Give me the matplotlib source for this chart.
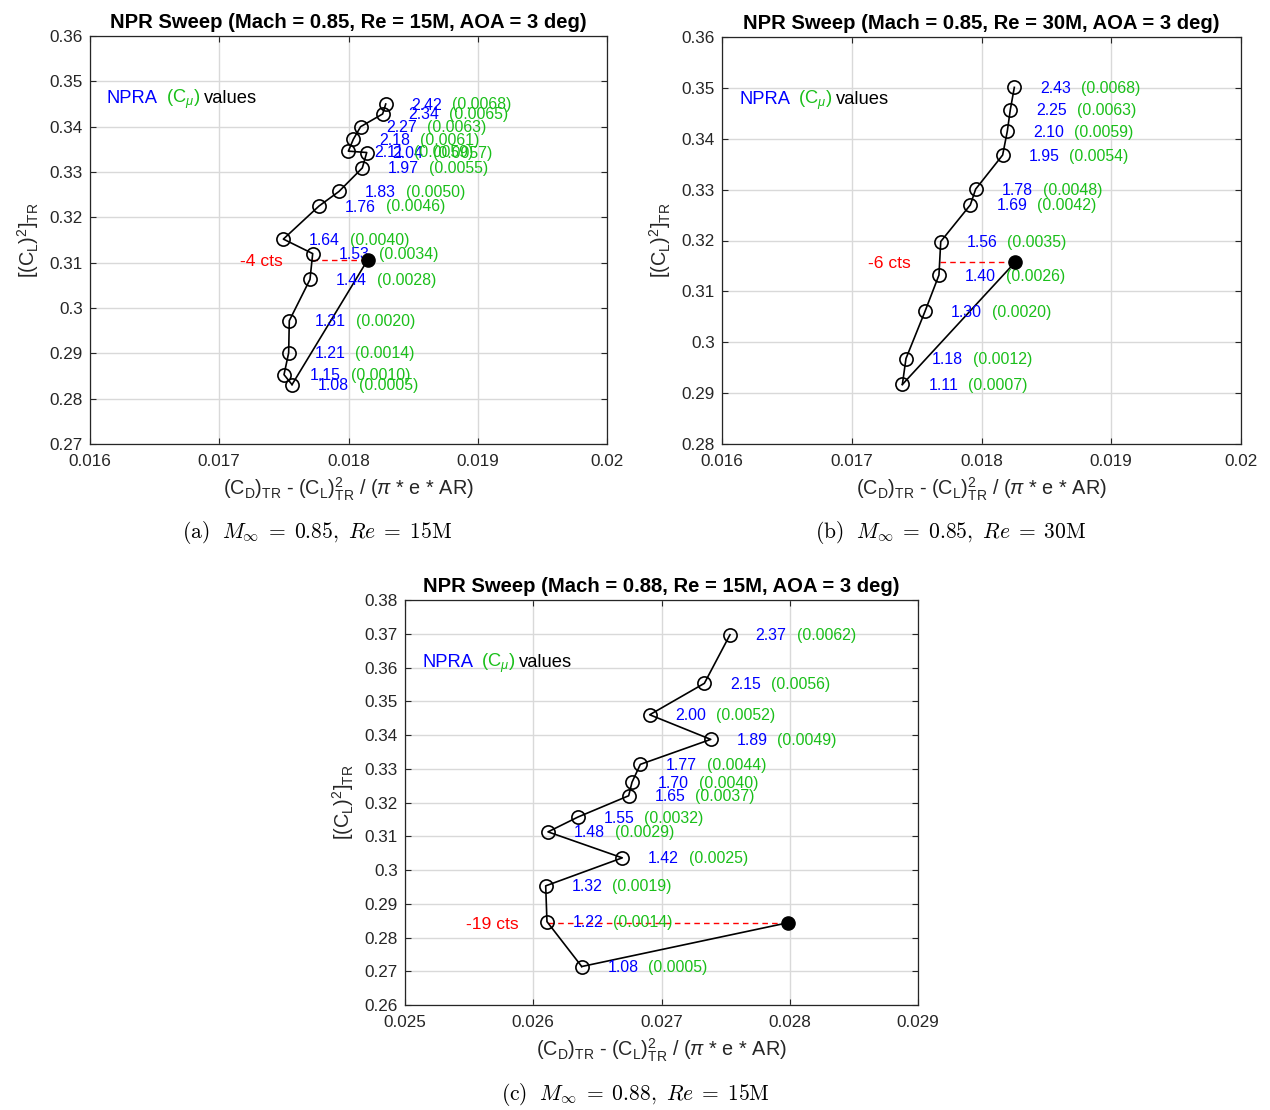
import numpy as np
import matplotlib
matplotlib.use("Agg")
import matplotlib.pyplot as plt
import matplotlib.transforms as mtransforms
from matplotlib.ticker import FuncFormatter

plt.rcParams['font.family'] = ['Liberation Sans', 'DejaVu Sans']
plt.rcParams['mathtext.fontset'] = 'custom'
plt.rcParams['mathtext.rm'] = 'Liberation Sans'
plt.rcParams['mathtext.it'] = 'Liberation Sans:italic'
plt.rcParams['mathtext.bf'] = 'Liberation Sans:bold'

# ---------------- data ----------------
# (a) Mach 0.85, Re 15M
a_npr = ["1.08", "1.15", "1.21", "1.31", "1.44", "1.53", "1.64", "1.76", "1.83",
         "1.97", "2.04", "2.11", "2.18", "2.27", "2.34", "2.42"]
a_cmu = ["0.0005", "0.0010", "0.0014", "0.0020", "0.0028", "0.0034", "0.0040", "0.0046",
         "0.0050", "0.0055", "0.0057", "0.0059", "0.0061", "0.0063", "0.0065", "0.0068"]
a_cd = [0.017563, 0.017501, 0.017537, 0.017542, 0.017702, 0.017723, 0.017496, 0.017772,
        0.017926, 0.018107, 0.018141, 0.017999, 0.018037, 0.018094, 0.018264, 0.018288]
a_cl2 = [0.2831, 0.2853, 0.2901, 0.2972, 0.3063, 0.3120, 0.3152, 0.3225,
         0.3257, 0.3309, 0.3343, 0.3346, 0.3372, 0.3400, 0.3428, 0.3450]
a_base_cd = 0.018148
a_base_cl2 = 0.3106
a_delta = "-4 cts"

# (b) Mach 0.85, Re 30M
b_npr = ["1.11", "1.18", "1.30", "1.40", "1.56", "1.69", "1.78", "1.95", "2.10", "2.25", "2.43"]
b_cmu = ["0.0007", "0.0012", "0.0020", "0.0026", "0.0035", "0.0042", "0.0048", "0.0054",
         "0.0059", "0.0063", "0.0068"]
b_cd = [0.017390, 0.017418, 0.017565, 0.017672, 0.017686, 0.017914, 0.017955, 0.018163,
        0.018199, 0.018222, 0.018253]
b_cl2 = [0.2917, 0.2968, 0.3061, 0.3132, 0.3198, 0.3270, 0.3301, 0.3368,
         0.3415, 0.3457, 0.3501]
b_base_cd = 0.018258
b_base_cl2 = 0.3157
b_delta = "-6 cts"

# (c) Mach 0.88, Re 15M
c_npr = ["1.08", "1.22", "1.32", "1.42", "1.48", "1.55", "1.65", "1.70", "1.77",
         "1.89", "2.00", "2.15", "2.37"]
c_cmu = ["0.0005", "0.0014", "0.0019", "0.0025", "0.0029", "0.0032", "0.0037", "0.0040",
         "0.0044", "0.0049", "0.0052", "0.0056", "0.0062"]
c_cd = [0.026378, 0.026107, 0.026097, 0.026694, 0.026115, 0.026349, 0.026744, 0.026770,
        0.026835, 0.027384, 0.026908, 0.027334, 0.027534]
c_cl2 = [0.2714, 0.2847, 0.2953, 0.3036, 0.3113, 0.3157, 0.3220, 0.3260,
         0.3313, 0.3387, 0.3460, 0.3553, 0.3697]
c_base_cd = 0.027989
c_base_cl2 = 0.2844
c_delta = "-19 cts"

titles = ["NPR Sweep (Mach = 0.85, Re = 15M, AOA = 3 deg)",
          "NPR Sweep (Mach = 0.85, Re = 30M, AOA = 3 deg)",
          "NPR Sweep (Mach = 0.88, Re = 15M, AOA = 3 deg)"]
captions = [r"$\mathrm{(a)}\ \ M_\infty\;=\;0.85,\ Re\;=\;15\mathrm{M}$",
            r"$\mathrm{(b)}\ \ M_\infty\;=\;0.85,\ Re\;=\;30\mathrm{M}$",
            r"$\mathrm{(c)}\ \ M_\infty\;=\;0.88,\ Re\;=\;15\mathrm{M}$"]

# ---------------- figure ----------------
DPI = 100
fig = plt.figure(figsize=(12.7, 11.1), dpi=DPI)
renderer = fig.canvas.get_renderer()

BLUE = (0, 0, 1)
GREEN = (0.1, 0.75, 0.1)
AXC = (0.15, 0.15, 0.15)
FS_LBL = 11.4
FS_TICK = 12.3


def fmt(v, _):
    s = ("%.4f" % round(v, 6)).rstrip('0').rstrip('.')
    return s


def parts_text(ax, x, y, parts, fs, dy_px=0.0):
    off = 0.0
    for s, c, g in parts:
        tr = mtransforms.offset_copy(ax.transData, fig=fig, x=off, y=dy_px, units='dots')
        t = ax.text(x, y, s, color=c, fontsize=fs, transform=tr, va='baseline', ha='left',
                    clip_on=False)
        w = t.get_window_extent(renderer).width
        off += w + g


def panel(rect, cd, cl2, npr, cmu, base_cd, base_cl2, delta, xlim, ylim, title, seg):
    ax = fig.add_axes(rect)
    ax.set_xlim(*xlim)
    ax.set_ylim(*ylim)
    ax.set_xticks(np.round(np.arange(xlim[0], xlim[1] + 1e-9, 0.001), 4))
    ax.set_yticks(np.round(np.arange(ylim[0], ylim[1] + 1e-9, 0.01), 3))
    ax.xaxis.set_major_formatter(FuncFormatter(fmt))
    ax.yaxis.set_major_formatter(FuncFormatter(fmt))
    ax.grid(True, color='#d9d9d9', linewidth=1.0)
    ax.set_axisbelow(True)
    for sp in ax.spines.values():
        sp.set_color(AXC)
        sp.set_linewidth(0.9)
    ax.tick_params(direction='in', length=4, width=0.8, colors=AXC, labelsize=FS_TICK,
                   top=True, right=True, pad=5)
    ax.tick_params(axis='x', pad=7)
    for lab in ax.get_xticklabels() + ax.get_yticklabels():
        lab.set_color(AXC)

    ax.set_title(title, fontsize=14.6, fontweight='bold', pad=6)
    ax.set_xlabel(r"$(\mathrm{C_D})_\mathrm{TR}$ - $(\mathrm{C_L})^2_\mathrm{TR}$ / ($\pi$ * e * AR)",
                  fontsize=14.3, color=AXC, labelpad=5)
    ax.set_ylabel(r"$[(\mathrm{C_L})^2]_\mathrm{TR}$", fontsize=14.3, color=AXC,
                  labelpad=6)

    # sweep line with open circles
    ax.plot(cd, cl2, '-', color='k', lw=1.2, marker='o', ms=9.5, mfc='none', mec='k',
            mew=1.2, zorder=3)
    # line from lowest NPR point to baseline
    ax.plot([cd[0], base_cd], [cl2[0], base_cl2], '-', color='k', lw=1.2, zorder=3)
    # baseline (filled)
    ax.plot([base_cd], [base_cl2], 'o', color='k', ms=9.5, zorder=4)

    # dashed delta line: curve crossing at baseline CL^2 on given segment
    i0, i1 = seg
    t = (base_cl2 - cl2[i0]) / (cl2[i1] - cl2[i0])
    xs = cd[i0] + t * (cd[i1] - cd[i0])
    ax.plot([xs, base_cd], [base_cl2, base_cl2], '--', color='red', lw=1.0, zorder=2,
            dashes=(4, 3))
    trd = mtransforms.offset_copy(ax.transData, fig=fig, x=-29, y=-6, units='dots')
    ax.text(xs, base_cl2, delta, color='red', fontsize=12.6, ha='right', va='baseline',
            transform=trd)

    # point labels
    xoff = 0.0002
    for x, y, n, c in zip(cd, cl2, npr, cmu):
        parts_text(ax, x + xoff, y, [(n, BLUE, 10), ("(" + c + ")", GREEN, 0)], FS_LBL,
                   dy_px=-5.5)

    # NPRA legend text
    lx = xlim[0] + 17 / (rect[2] * 1270) * (xlim[1] - xlim[0])
    ly = ylim[1] - 67 / (rect[3] * 1110) * (ylim[1] - ylim[0])
    parts_text(ax, lx, ly, [("NPRA", BLUE, 8), (r"$(\mathrm{C}_\mu)$", GREEN, 4),
                             ("values", 'k', 0)], 13.2, dy_px=0)
    return ax


panel([90 / 1270, 1 - 444 / 1110, 517 / 1270, 408 / 1110], a_cd, a_cl2, a_npr, a_cmu,
      a_base_cd, a_base_cl2, a_delta, (0.016, 0.02), (0.27, 0.36), titles[0], (4, 5))
panel([722 / 1270, 1 - 444 / 1110, 519 / 1270, 407 / 1110], b_cd, b_cl2, b_npr, b_cmu,
      b_base_cd, b_base_cl2, b_delta, (0.016, 0.02), (0.28, 0.36), titles[1], (3, 4))
panel([405 / 1270, 1 - 1005 / 1110, 513 / 1270, 405 / 1110], c_cd, c_cl2, c_npr, c_cmu,
      c_base_cd, c_base_cl2, c_delta, (0.025, 0.029), (0.26, 0.38), titles[2], (0, 1))

cap_pos = [(317 / 1270, 1 - 533 / 1110), (951 / 1270, 1 - 533 / 1110),
           (635 / 1270, 1 - 1094 / 1110)]
for (cx, cy), cap in zip(cap_pos, captions):
    fig.text(cx, cy, cap, ha='center', va='center', fontsize=15.5, math_fontfamily='cm',
             color='k')

fig.savefig("out.png", dpi=DPI)
